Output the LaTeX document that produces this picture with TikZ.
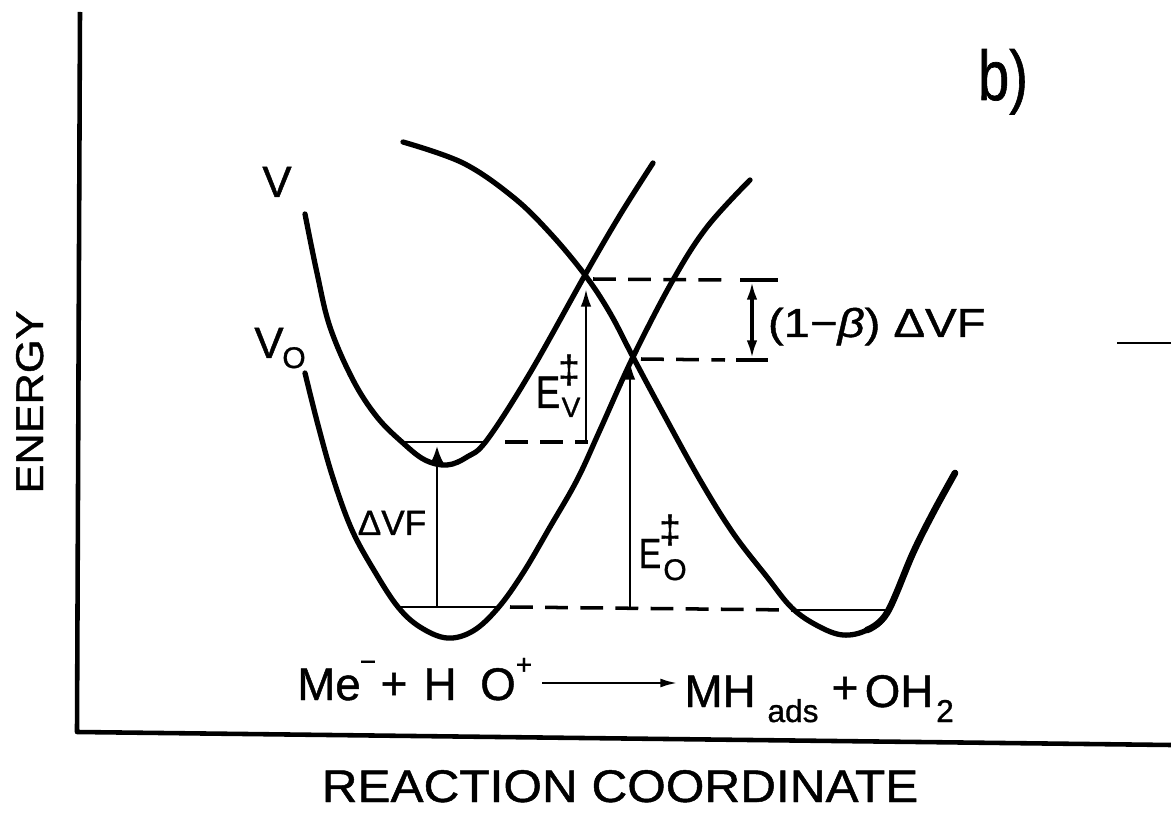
\documentclass[tikz,border=0pt]{standalone}
\usepackage{fontspec}
\usepackage{graphicx}
\setmainfont{Liberation Sans}[FakeBold=1]
\usetikzlibrary{arrows.meta}
\newcommand\fsz[1]{\fontsize{#1}{#1}\selectfont}
\begin{document}
\begin{tikzpicture}[x=0.02cm,y=-0.02cm,
  curve/.style={line width=3pt,line cap=round,line join=round},
  thickcurve/.style={line width=3.8pt,line cap=round,line join=round},
  level/.style={line width=1.5pt},
  dashline/.style={line width=2pt,dash pattern=on 13pt off 7pt},
  arr/.style={line width=1.5pt,-{Latex[length=10pt,width=6pt]}},
  axis/.style={line width=2.6pt,line join=round},
  lab/.style={inner sep=0pt,outer sep=0pt,font=\fsz{26}}]
\useasboundingbox (0,0) rectangle (1171,814);

% axes
\coordinate (ytop) at (80,12);
\coordinate (origin) at (77,732);
\coordinate (xend) at (1171,745);
\draw[axis] (ytop) -- (origin) -- (xend);
\coordinate (s1) at (1117,343);
\coordinate (s2) at (1171,343);
\draw[line width=1.5pt] (s1) -- (s2);

% curve V
\draw[curve] plot[smooth,tension=0.6] coordinates {(305,214) (317,273) (330,327) (353,380) (377,417) (403,443) (425,460) (447,465) (467,457) (487,440) (530,373) (585,275) (620,215) (653,163)};
% curve V0
\draw[curve] plot[smooth,tension=0.6] coordinates {(305,373) (318,425) (333,478) (352,530) (375,572) (398,607) (420,627) (447,638) (473,631) (498,608) (523,573) (550,527) (577,480) (600,430) (633,357) (673,280) (707,227) (750,180)};
% product curve
\draw[curve] plot[smooth,tension=0.6] coordinates {(403,142) (463,163) (513,197) (550,233) (585,275) (610,313) (633,357) (663,413) (700,480) (733,533) (767,577) (792,608) (818,626) (843,635) (867,630) (887,613) (913,553) (933,513) (955,473)};
\draw[thickcurve] plot[smooth,tension=0.6] coordinates {(867,630) (887,613) (913,553) (933,513) (955,473)};

% crossing points and levels
\coordinate (Xv) at (585,277);
\coordinate (Xo) at (633,358);
\coordinate (lv1) at (403,442);
\coordinate (lv2) at (485,442);
\coordinate (lv3) at (588,442);
\coordinate (lo1) at (398,607);
\coordinate (lo2) at (498,607);
\coordinate (rp1) at (792,610);
\coordinate (rp2) at (887,610);
\draw[level] (lv1) -- (lv2);
\draw[dashline] (lv2) ++(20,0) -- (lv3);
\draw[level] (lo1) -- (lo2);
\draw[dashline] (lo2) ++(12,0) -- (rp1);
\draw[level] (rp1) -- (rp2);

\coordinate (t1) at (728,280);
\coordinate (t2) at (740,280);
\coordinate (t3) at (778,280);
\coordinate (u1) at (725,360);
\coordinate (u2) at (736,360);
\coordinate (u3) at (768,360);
\draw[dashline] (Xv) ++(8,2) -- (t1);
\draw[level,line width=2pt] (t2) -- (t3);
\draw[dashline] (Xo) ++(8,1) -- (u1);
\draw[level,line width=2pt] (u2) -- (u3);

% arrows
\coordinate (d0) at (437,607);
\coordinate (d1) at (437,446);
\coordinate (ev0) at (586,442);
\coordinate (ev1) at (586,289);
\coordinate (eo0) at (630,607);
\coordinate (eo1) at (630,362);
\coordinate (b0) at (752,282);
\coordinate (b1) at (752,358);
\draw[line width=1.5pt,-{Latex[length=10pt,width=8pt]}] (d0) -- (d1);
\draw[arr] (ev0) -- (ev1);
\draw[arr] (eo0) -- (eo1);
\draw[line width=1.8pt,{Latex[length=10pt,width=6pt]}-{Latex[length=10pt,width=6pt]}] (b0) -- (b1);

% labels
\node[lab,font=\fsz{40},anchor=base] (blab) at (1003,100) {\scalebox{0.8}[1]{b)}};
\node[lab,font=\fsz{25},anchor=base] (vlab) at (277,197) {V};
\node[lab,font=\fsz{25},anchor=base] (v0lab) at (269,358) {V};
\node[lab,font=\fsz{17},anchor=base] (v0sub) at (294,368) {O};
\node[lab,anchor=base] (evE) at (548,408) {\scalebox{0.8}[1]{E}};
\node[lab,font=\fsz{16},anchor=base] (evsub) at (571,417) {V};
\node[lab,font=\fsz{22}] (evdag) at (569,370) {‡};
\node[lab,font=\fsz{24},anchor=base] (eoE) at (650,568) {\scalebox{0.8}[1]{E}};
\node[lab,font=\fsz{17},anchor=base] (eosub) at (675,580) {O};
\node[lab,font=\fsz{22}] (eodag) at (670,530) {‡};
\node[lab,font=\fsz{20},anchor=base] (dvf) at (392,535) {ΔVF};
\node[lab,font=\fsz{23},anchor=base west] (beta) at (768,337) {\scalebox{1.17}[1]{(1−\textit{β}) ΔVF}};

% reaction
\node[lab,anchor=base] (me) at (329,700) {Me};
\node[lab,font=\fsz{16}] (mem) at (368,666) {−};
\node[lab] (pl1) at (394,686) {+};
\node[lab,anchor=base] (hh) at (440,700) {H};
\node[lab,anchor=base] (oo) at (498,700) {O};
\node[lab,font=\fsz{16}] (opl) at (524,666) {+};
\coordinate (ra) at (542,683);
\coordinate (rb) at (678,683);
\draw[line width=1.6pt,-{Latex[length=10pt,width=5pt]}] (ra) -- (rb);
\node[lab,anchor=base] (mh) at (720,707) {MH};
\node[lab,font=\fsz{18},anchor=base] (ads) at (793,722) {ads};
\node[lab] (pl2) at (845,690) {+};
\node[lab,anchor=base] (oh) at (899,707) {OH};
\node[lab,font=\fsz{18},anchor=base] (two) at (945,722) {2};

% axis titles
\node[lab,anchor=base] (xlab) at (620,802) {\scalebox{1.085}[1]{REACTION COORDINATE}};
\node[lab,font=\fsz{22},rotate=90,anchor=base] (ylab) at (43,402) {\scalebox{1.12}[1]{ENERGY}};
\end{tikzpicture}
\end{document}
